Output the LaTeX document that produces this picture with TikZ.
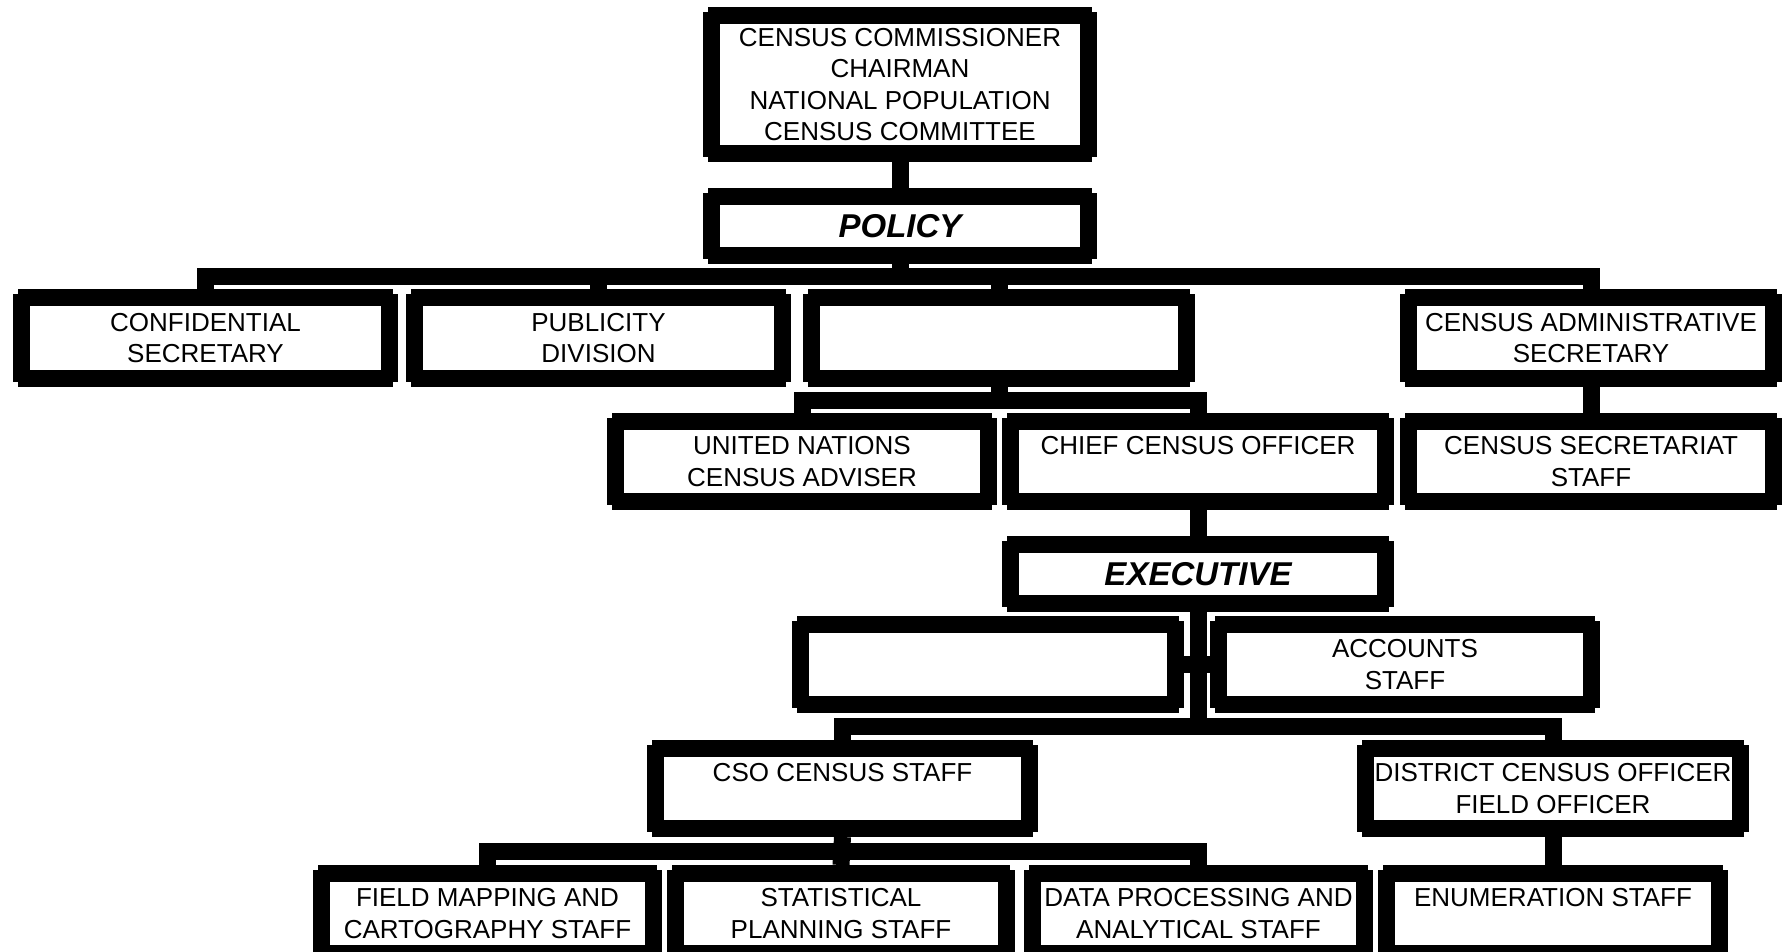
\documentclass[tikz,border=0pt]{standalone}
\usepackage{fontspec}
\newfontfamily\arialfont{Liberation Sans}
\newcommand\bxfont{\arialfont\fontsize{26}{31.5}\selectfont}
\newcommand\hdfont{\arialfont\bfseries\itshape\fontsize{33}{36}\selectfont}
\newcommand\notchbox[1]{%
  \fill[white] (#1.north west) rectangle ++(5,5);
  \fill[white] (#1.north east) rectangle ++(-5,5);
  \fill[white] (#1.south west) rectangle ++(5,-5);
  \fill[white] (#1.south east) rectangle ++(-5,-5);}
\tikzset{
  box/.style={draw=black, line width=17pt, fill=white, inner sep=0pt,
    align=center, font=\bxfont, line join=miter},
  hbox/.style={box, font=\hdfont},
  conn/.style={draw=black, line width=17pt, line join=miter, line cap=butt}
}
\begin{document}
\begin{tikzpicture}[x=1pt,y=-1pt]
\useasboundingbox (0,0) rectangle (1785,952);
\clip (0,0) rectangle (1785,952);
\fill[white] (0,0) rectangle (1785,952);
% bus levels
\coordinate (busA) at (0,276);
\coordinate (busB) at (0,400);
\coordinate (busE) at (0,726);
\coordinate (busF) at (0,851);
% boxes
\node[box, minimum width=377pt, minimum height=138pt] (top) at (900,84.5)
  {CENSUS COMMISSIONER\\CHAIRMAN\\NATIONAL POPULATION\\CENSUS COMMITTEE};
\node[hbox, minimum width=377pt, minimum height=59pt] (policy) at (900,226) {POLICY};
\node[box, minimum width=368pt, minimum height=81pt] (conf) at (205.5,338) {CONFIDENTIAL\\SECRETARY};
\node[box, minimum width=368pt, minimum height=81pt] (pub) at (598.5,338) {PUBLICITY\\DIVISION};
\node[box, minimum width=375pt, minimum height=81pt] (blankA) at (999,338) {};
\node[box, minimum width=365pt, minimum height=81pt] (admin) at (1591,338) {CENSUS ADMINISTRATIVE\\SECRETARY};
\node[box, minimum width=373pt, minimum height=80pt] (un) at (802,461.5) {UNITED NATIONS\\CENSUS ADVISER};
\node[box, minimum width=375pt, minimum height=80pt] (chief) at (1198,461.5) {CHIEF CENSUS OFFICER\\\mbox{}};
\node[box, minimum width=365pt, minimum height=80pt] (secr) at (1591,461.5) {CENSUS SECRETARIAT\\STAFF};
\node[hbox, minimum width=375pt, minimum height=59pt] (exec) at (1198,574) {EXECUTIVE};
\node[box, minimum width=375pt, minimum height=80pt] (blankB) at (988,664.5) {};
\node[box, minimum width=373pt, minimum height=80pt] (acc) at (1405,664.5) {ACCOUNTS\\STAFF};
\node[box, minimum width=374pt, minimum height=80pt] (cso) at (842.5,788.5) {CSO CENSUS STAFF\\\mbox{}};
\node[box, minimum width=375pt, minimum height=80pt] (dco) at (1553,788.5) {DISTRICT CENSUS OFFICER\\FIELD OFFICER};
\node[box, minimum width=332pt, minimum height=80pt] (fm) at (487.5,913.5) {FIELD MAPPING AND\\CARTOGRAPHY STAFF};
\node[box, minimum width=331pt, minimum height=80pt] (stat) at (841,913.5) {STATISTICAL\\PLANNING STAFF};
\node[box, minimum width=332pt, minimum height=80pt] (dp) at (1198.5,913.5) {DATA PROCESSING AND\\ANALYTICAL STAFF};
\node[box, minimum width=333pt, minimum height=80pt] (enum) at (1553,913.5) {ENUMERATION STAFF\\\mbox{}};
% connectors
\draw[conn] (top.south) -- (policy.north);
\draw[conn] (policy.south) -- (policy.south |- busA);
\draw[conn] (conf.north) |- (admin.north |- busA) -- (admin.north);
\draw[conn] (pub.north) -- (pub.north |- busA);
\draw[conn] (blankA.north) -- (blankA.north |- busA);
\draw[conn] (blankA.south) -- (blankA.south |- busB);
\draw[conn] (un.north) |- (chief.north |- busB) -- (chief.north);
\draw[conn] (admin.south) -- (secr.north);
\draw[conn] (chief.south) -- (exec.north);
\draw[conn] (exec.south) -- (exec.south |- busE);
\draw[conn] (blankB.east) -- (acc.west);
\draw[conn] (cso.north) |- (dco.north |- busE) -- (dco.north);
\draw[conn] (dco.south) -- (enum.north);
\draw[conn] (cso.south) -- (stat.north);
\draw[conn] (fm.north) |- (dp.north |- busF) -- (dp.north);
% notched corners
\foreach \n in {top,policy,conf,pub,blankA,admin,un,chief,secr,exec,blankB,acc,cso,dco,fm,stat,dp,enum}{\notchbox{\n}}
\end{tikzpicture}
\end{document}
